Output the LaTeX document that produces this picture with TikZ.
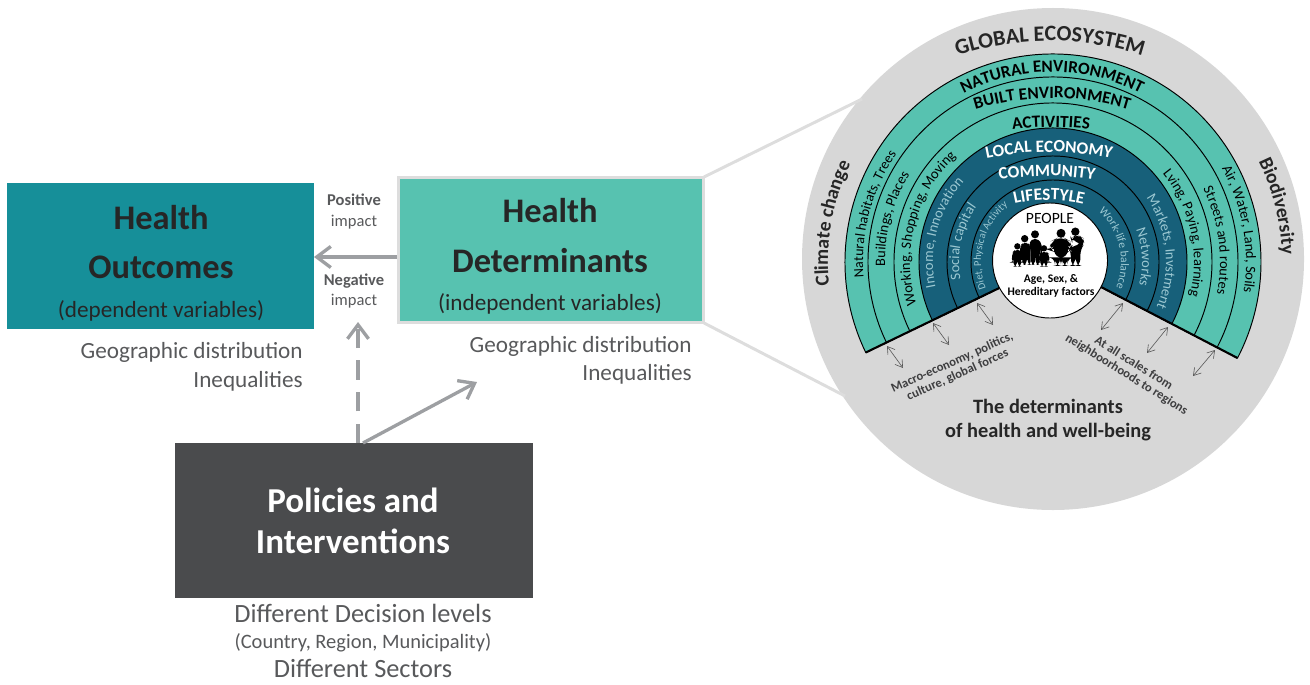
\documentclass[tikz,border=0pt]{standalone}
\usepackage{fontspec}
\usepackage{xcolor}
\setmainfont{Carlito}
\usetikzlibrary{arrows.meta,decorations.text}

\definecolor{outcometeal}{HTML}{168F99}
\definecolor{determteal}{HTML}{57C2B0}
\definecolor{ringblue}{HTML}{17607A}
\definecolor{ringlight}{HTML}{9CC8D2}
\definecolor{policygray}{HTML}{4A4B4D}
\definecolor{arrowgray}{HTML}{9D9FA2}
\definecolor{bordergray}{HTML}{DDDDDD}
\definecolor{globegray}{HTML}{D7D7D7}
\definecolor{darktext}{HTML}{262626}
\definecolor{softtext}{HTML}{58595B}

\newcommand{\sz}[1]{\fontsize{#1}{#1}\selectfont}

\tikzset{
  box/.style={rectangle, inner sep=0pt, outer sep=0pt},
  boxtitle/.style={anchor=base, inner sep=0pt, font=\sz{19.6}\bfseries},
  boxsub/.style={anchor=base, inner sep=0pt, font=\sz{13.2}, text=darktext},
  softnote/.style={anchor=base east, inner sep=0pt, font=\sz{13.2}, text=softtext},
  softmid/.style={anchor=base, inner sep=0pt, font=\sz{15}, text=softtext},
  impactnote/.style={anchor=base, inner sep=0pt, font=\sz{9.4}, text=softtext},
  flowarrow/.style={arrowgray, line width=1.9pt, -{Straight Barb[length=8pt, width=12pt, line width=1.9pt]}},
  feeder/.style={bordergray, line width=1.7pt},
  ringedge/.style={draw=black, line width=0.55pt},
  scalearrow/.style={black!65, line width=0.35pt, {Straight Barb[length=4pt, width=5pt]}-{Straight Barb[length=4pt, width=5pt]}},
  cutline/.style={black, line width=1.2pt},
  curvedlabel/.style={decorate, decoration={text along path, text align=center, text={#1}}},
  slantnote/.style={inner sep=0pt, align=center, font=\fontsize{7.2}{7.6}\selectfont\bfseries, text=softtext!70!black},
  peoplenote/.style={anchor=base, inner sep=0pt, font=\sz{6.6}\bfseries, text=black},
}

\newcommand{\ringfont}{\sz{8.2}\color{black}}
\newcommand{\innerfont}{\sz{8.2}\color{ringlight}}
\newcommand{\headfont}{\sz{9.8}\bfseries\color{black}}
\newcommand{\whitefont}{\sz{9.8}\bfseries\color{white}}
\newcommand{\sidefont}{\sz{11.2}\bfseries\color{darktext}}

\begin{document}
\begin{tikzpicture}[x=0.02cm, y=0.02cm]
  \useasboundingbox (0,0) rectangle (1310,684);

  % the circle and the two lines that lead to it
  \fill[globegray] (1053,425) circle[radius=251];
  \node[box, minimum width=6.12cm, minimum height=2.92cm, fill=determteal, draw=bordergray, line width=1.7pt] (determ) at (551,434) {};
  \coordinate (feedtop) at (862,585);
  \coordinate (feedlow) at (845,288);
  \draw[feeder] (determ.north east) -- (feedtop);
  \draw[feeder] (determ.south east) -- (feedlow);

  % left boxes
  \node[box, minimum width=6.14cm, minimum height=2.92cm, fill=outcometeal] (outcomes) at (160.5,428) {};
  \node[box, minimum width=7.16cm, minimum height=3.10cm, fill=policygray] (policies) at (354,163.5) {};

  \node[boxtitle, text=darktext] (outcomes1) at (161,455) {Health};
  \node[boxtitle, text=darktext] (outcomes2) at (161,406) {Outcomes};
  \node[boxsub] (outcomes3) at (161,367) {(dependent variables)};
  \node[softnote] (outnote1) at (303,326) {Geographic distribution};
  \node[softnote] (outnote2) at (303,297) {Inequalities};

  \node[boxtitle, text=darktext] (determ1) at (550,462) {Health};
  \node[boxtitle, text=darktext] (determ2) at (550,412) {Determinants};
  \node[boxsub] (determ3) at (550,374) {(independent variables)};
  \node[softnote] (detnote1) at (692,332) {Geographic distribution};
  \node[softnote] (detnote2) at (692,304) {Inequalities};

  \node[boxtitle, text=white, font=\sz{19.9}\bfseries] (policies1) at (353,172) {Policies and};
  \node[boxtitle, text=white, font=\sz{19.9}\bfseries] (policies2) at (353,131) {Interventions};
  \node[softmid] (polnote1) at (363,62) {Different Decision levels};
  \node[softmid, font=\sz{11.65}] (polnote2) at (363,36) {(Country, Region, Municipality)};
  \node[softmid] (polnote3) at (363,7) {Different Sectors};

  \node[impactnote, font=\sz{9.4}\bfseries] (positive1) at (354,479) {Positive};
  \node[impactnote] (positive2) at (354,458) {impact};
  \node[impactnote, font=\sz{9.4}\bfseries] (negative1) at (354,399) {Negative};
  \node[impactnote] (negative2) at (354,379) {impact};

  % arrows
  \coordinate (dashfoot) at (358,241);
  \coordinate (dashtip) at (358,362);
  \coordinate (slantfoot) at (363,241);
  \coordinate (slanttip) at (477,302);
  \coordinate (determin) at (397,427);
  \draw[flowarrow] (determin) -- (outcomes.east |- determin);
  \draw[flowarrow, dash pattern=on 11pt off 7pt] (dashfoot) -- (dashtip);
  \draw[flowarrow] (slantfoot) -- (slanttip);

  % the rings
  \coordinate (fan) at (1053,422);
  \filldraw[fill=determteal, ringedge] (fan) -- ++(205.8:208) arc (205.8:-27.5:208) -- cycle;
  \filldraw[fill=determteal, ringedge] (fan) -- ++(205.8:185) arc (205.8:-27.5:185) -- cycle;
  \filldraw[fill=determteal, ringedge] (fan) -- ++(205.8:159) arc (205.8:-27.5:159) -- cycle;
  \filldraw[fill=ringblue, ringedge] (fan) -- ++(205.8:134) arc (205.8:-27.5:134) -- cycle;
  \filldraw[fill=ringblue, ringedge] (fan) -- ++(205.8:106) arc (205.8:-27.5:106) -- cycle;
  \filldraw[fill=ringblue, ringedge] (fan) -- ++(205.8:82) arc (205.8:-27.5:82) -- cycle;
  \draw[cutline] (fan) -- ++(205.8:208);
  \draw[cutline] (fan) -- ++(-27.5:208);
  \filldraw[fill=white, draw=black, line width=0.55pt] (1050,423.5) circle[radius=57.5];

  % curved titles
  \path[curvedlabel={|\sz{12.5}\bfseries\color{darktext}|GLOBAL ECOSYSTEM}] ([shift={(115:300)}]1050,343) arc (115:65:300);
  \path[curvedlabel={|\headfont|NATURAL ENVIRONMENT}] ([shift={(130:195)}]1052,417) arc (130:50:195);
  \path[curvedlabel={|\headfont|BUILT ENVIRONMENT}] ([shift={(115:260)}]1052,326) arc (115:65:260);
  \path[curvedlabel={|\headfont|ACTIVITIES}] ([shift={(105:300)}]1051,257) arc (105:75:300);
  \path[curvedlabel={|\whitefont|LOCAL ECONOMY}] ([shift={(105:300)}]1049,232) arc (105:75:300);
  \path[curvedlabel={|\whitefont|COMMUNITY}] ([shift={(105:300)}]1047,208) arc (105:75:300);
  \path[curvedlabel={|\whitefont|LIFESTYLE}] ([shift={(115:150)}]1049,334) arc (115:65:150);

  % curved labels, left side
  \path[curvedlabel={|\sidefont|Climate change}] ([shift={(215:225)}]fan) arc (215:125:225);
  \path[curvedlabel={|\sz{8}\color{black}|Natural habitats, Trees}] ([shift={(215:190)}]fan) arc (215:115:190);
  \path[curvedlabel={|\ringfont|Buildings, Places}] ([shift={(215:168)}]fan) arc (215:115:168);
  \path[curvedlabel={|\ringfont|Working, Shopping, Moving}] ([shift={(225:143)}]fan) arc (225:105:143);
  \path[curvedlabel={|\innerfont|Income, Innovation}] ([shift={(225:120)}]fan) arc (225:105:120);
  \path[curvedlabel={|\innerfont|Social capital}] ([shift={(225:94)}]fan) arc (225:110:94);
  \path[curvedlabel={|\sz{6}\color{ringlight}|Diet, Physical Activity}] ([shift={(225:72)}]fan) arc (225:105:72);

  % curved labels, right side
  \path[curvedlabel={|\sidefont|Biodiversity}] ([shift={(60:229)}]fan) arc (60:-32:229);
  \path[curvedlabel={|\ringfont|Air, Water, Land, Soils}] ([shift={(55:193)}]fan) arc (55:-35:193);
  \path[curvedlabel={|\ringfont|Streets and routes}] ([shift={(55:167)}]fan) arc (55:-40:167);
  \path[curvedlabel={|\ringfont|Lving, Paying, learning}] ([shift={(70:141)}]fan) arc (70:-45:141);
  \path[curvedlabel={|\innerfont|Markets, Invstment}] ([shift={(65:113)}]fan) arc (65:-54:113);
  \path[curvedlabel={|\innerfont|Networks}] ([shift={(60:89)}]fan) arc (60:-54:89);
  \path[curvedlabel={|\sz{6.6}\color{ringlight}|Work-life balance}] ([shift={(80:68)}]fan) arc (80:-54:68);

  % scale arrows
  \draw[scalearrow] (887,338) -- (903,316);
  \draw[scalearrow] (933,361) -- (949,339);
  \draw[scalearrow] (977,381) -- (993,359);
  \draw[scalearrow] (1123,381) -- (1101,354);
  \draw[scalearrow] (1168,357) -- (1147,331);
  \draw[scalearrow] (1215,334) -- (1193,308);

  % slanted and lower notes
  \node[slantnote, rotate=24] (macronote) at (955,315) {Macro-economy, politics,\\culture, global forces};
  \node[slantnote, rotate=-32] (scalenote) at (1130,315) {At all scales from\\neighboorhoods to regions};
  \node[anchor=base, inner sep=0pt, font=\sz{11.6}\bfseries, text=darktext] (det1) at (1048,271) {The determinants};
  \node[anchor=base, inner sep=0pt, font=\sz{11.6}\bfseries, text=darktext] (det2) at (1048,247) {of health and well-being};

  % people
  \node[anchor=base, inner sep=0pt, font=\sz{8.9}, text=black] (people) at (1050,461) {PEOPLE};
  \node[peoplenote] (peoplea) at (1051,402) {Age, Sex, \&};
  \node[peoplenote] (peopleb) at (1051,389) {Hereditary factors};
  \begin{scope}[shift={(960,514)}, x=0.00667cm, y=-0.00667cm]
    \fill (172,229) circle[radius=9.5];
    \fill[rounded corners=2] (155,278) -- (157,247) -- (165,240) -- (180,240) -- (188,247) -- (190,278) -- (186,278) -- (184,260) -- (183,290) -- (174,290) -- (173,268) -- (171,268) -- (170,290) -- (161,290) -- (160,260) -- (159,278) -- cycle;
    \fill (194,206) circle[radius=11];
    \fill[rounded corners=2] (178,270) -- (181,226) -- (190,219) -- (202,219) -- (212,226) -- (212,285) -- (204,285) -- (203,262) -- (200,262) -- (199,285) -- (188,285) -- (187,250) -- (184,270) -- cycle;
    \fill (225,193) circle[radius=12];
    \fill[rounded corners=2] (206,225) -- (214,207) -- (236,207) -- (246,225) -- (246,262) -- (242,262) -- (240,230) -- (238,285) -- (228,285) -- (226,255) -- (224,285) -- (214,285) -- (212,235) -- cycle;
    \fill (252,235) circle[radius=9.5];
    \fill[rounded corners=2] (236,278) -- (238,252) -- (245,246) -- (260,246) -- (267,252) -- (269,278) -- (265,278) -- (263,262) -- (262,290) -- (254,290) -- (253,270) -- (251,270) -- (250,290) -- (242,290) -- (241,262) -- (240,278) -- cycle;
    \fill (303,190) circle[radius=13.5];
    \fill[rounded corners=4] (266,240) -- (276,212) -- (290,205) -- (315,205) -- (328,212) -- (338,235) -- (332,240) -- (322,225) -- (324,262) -- (322,262) -- (322,288) -- (307,288) -- (305,262) -- (300,262) -- (300,288) -- (285,288) -- (285,262) -- (282,262) -- (284,225) -- (272,242) -- cycle;
    \fill (346,185) circle[radius=12.5];
    \fill[rounded corners=3] (332,204) -- (345,198) -- (358,198) -- (370,204) -- (373,222) -- (362,236) -- (360,288) -- (349,288) -- (347,255) -- (345,255) -- (344,288) -- (333,288) -- (333,246) -- (327,236) -- (333,230) -- (358,226) -- (362,215) -- (335,214) -- cycle;
  \end{scope}
\end{tikzpicture}
\end{document}
